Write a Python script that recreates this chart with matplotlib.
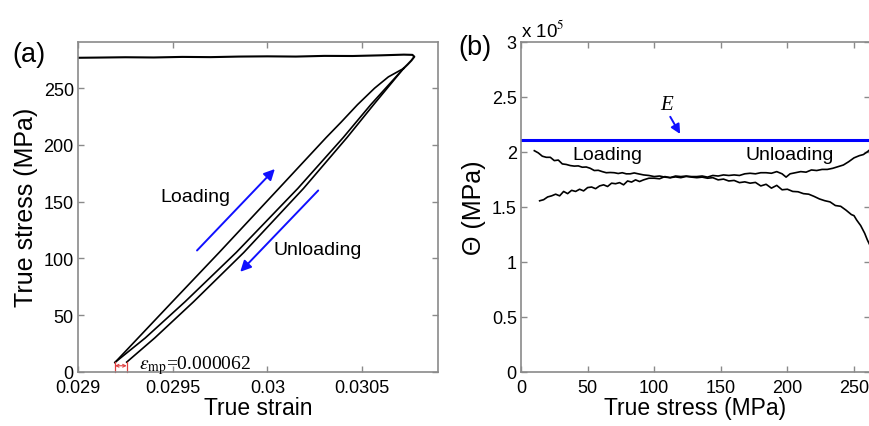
import matplotlib
matplotlib.use("Agg")
import matplotlib.pyplot as plt
from matplotlib.ticker import FuncFormatter

plt.rcParams['font.family'] = ['Liberation Sans', 'DejaVu Sans']
plt.rcParams['mathtext.fontset'] = 'stix'

# ---------------- data: panel (a) ----------------
plateau_strain = [0.02898, 0.02910, 0.02925, 0.02940, 0.02955, 0.02970, 0.02985,
                  0.03000, 0.03015, 0.03030, 0.03045, 0.03060, 0.03072, 0.030765,
                  0.030775, 0.030760, 0.030740, 0.030718]
plateau_stress = [276.8, 277.0, 277.3, 277.1, 277.6, 277.4, 277.9,
                  278.1, 277.9, 278.5, 278.4, 279.0, 279.6, 279.4,
                  277.8, 274.5, 271.0, 267.4]

load_stress = [8.4, 61.9, 105.3, 161.7, 206.6, 220.0, 235.5, 250.0, 260.0, 267.4]
load_strain = [0.029195, 0.029498, 0.029745, 0.030060, 0.030310, 0.030388,
               0.030475, 0.030565, 0.030638, 0.030718]

unload_stress = [267.4, 235.5, 206.6, 161.7, 105.3, 61.9, 30.0, 8.4]
unload_strain = [0.030718, 0.030545, 0.030400, 0.030160, 0.029835, 0.029565,
                 0.029355, 0.029195]

first_stress = [267.4, 235.5, 206.6, 161.7, 105.3, 61.9, 30.0, 8.7]
first_strain = [0.030718, 0.030560, 0.030420, 0.030190, 0.029875, 0.029610,
                0.029405, 0.029257]

strain_ticks = [0.029, 0.0295, 0.030, 0.0305]
strain_ticklabels = ['0.029', '0.0295', '0.03', '0.0305']
stress_ticks_a = [0, 50, 100, 150, 200, 250]

# ---------------- data: panel (b) ----------------
theta_load_stress = [10, 13, 16, 19, 22, 25, 28, 31, 34, 37, 40, 43, 46, 49, 52, 55,
                     58, 61, 64, 67, 70, 73, 76, 79, 82, 85, 88, 92, 96, 100, 104,
                     108, 112, 116, 120, 124, 128, 132, 136, 140, 144, 148, 152, 156,
                     160, 164, 168, 172, 176, 180, 184, 188, 192, 196, 200, 204, 208,
                     212, 216, 220, 224, 228, 232, 236, 240, 244, 248, 250, 252, 255,
                     258, 260, 262]
theta_load = [2.01, 1.99, 1.96, 1.95, 1.95, 1.92, 1.925, 1.89, 1.885, 1.875, 1.87,
              1.872, 1.86, 1.862, 1.85, 1.83, 1.832, 1.82, 1.81, 1.812, 1.81, 1.803,
              1.81, 1.80, 1.80, 1.808, 1.80, 1.79, 1.785, 1.775, 1.78, 1.77, 1.765,
              1.772, 1.765, 1.776, 1.77, 1.765, 1.77, 1.76, 1.765, 1.745, 1.752,
              1.735, 1.74, 1.72, 1.727, 1.715, 1.722, 1.69, 1.705, 1.67, 1.695,
              1.655, 1.66, 1.64, 1.637, 1.62, 1.615, 1.595, 1.572, 1.556, 1.545,
              1.512, 1.505, 1.47, 1.43, 1.42, 1.38, 1.33, 1.26, 1.20, 1.15]

theta_unload_stress = [14, 17, 20, 23, 26, 29, 32, 35, 38, 41, 44, 47, 50, 53, 56, 59,
                       62, 65, 68, 71, 74, 77, 80, 83, 86, 89, 92, 96, 100, 104, 108,
                       112, 116, 120, 124, 128, 132, 136, 140, 144, 148, 152, 156, 160,
                       164, 168, 172, 176, 180, 184, 188, 192, 196, 199, 202, 206, 210,
                       214, 218, 222, 226, 230, 234, 238, 242, 246, 250, 254, 257, 260,
                       262]
theta_unload = [1.555, 1.565, 1.59, 1.60, 1.615, 1.60, 1.64, 1.62, 1.65, 1.64, 1.66,
                1.645, 1.675, 1.68, 1.665, 1.69, 1.70, 1.685, 1.715, 1.71, 1.72, 1.70,
                1.735, 1.725, 1.745, 1.73, 1.745, 1.76, 1.76, 1.755, 1.775, 1.765,
                1.78, 1.775, 1.78, 1.775, 1.775, 1.78, 1.77, 1.785, 1.78, 1.79, 1.785,
                1.79, 1.785, 1.80, 1.805, 1.80, 1.81, 1.81, 1.805, 1.82, 1.80, 1.77,
                1.80, 1.81, 1.82, 1.815, 1.835, 1.83, 1.84, 1.84, 1.85, 1.865, 1.88,
                1.91, 1.945, 1.965, 1.975, 2.00, 2.02]

E_modulus = 2.105   # x 1e5 MPa
theta_scale = 1e5
stress_ticks_b = [0, 50, 100, 150, 200, 250]
theta_ticks = [0, 0.5, 1, 1.5, 2, 2.5, 3]

# ---------------- figure ----------------
fig = plt.figure(figsize=(8.7, 4.27), dpi=100)
axa = fig.add_axes([78/870, 54/427, 360/870, 330.3/427])
axb = fig.add_axes([521/870, 54/427, 349/870, 330.3/427])

spine_col = '#8a8a8a'
for ax in (axa, axb):
    for s in ax.spines.values():
        s.set_color(spine_col)
        s.set_linewidth(1.2)
    ax.tick_params(direction='in', top=True, right=True, color=spine_col,
                   length=4, width=1, labelsize=13, labelcolor='black', pad=3)
    ax.tick_params(axis='x', pad=5)

# panel (a)
axa.plot(plateau_strain, plateau_stress, color='black', lw=1.5)
axa.plot(first_strain, first_stress, color='black', lw=1.2)
axa.plot(unload_strain, unload_stress, color='black', lw=1.2)
axa.plot(load_strain, load_stress, color='black', lw=1.2)
axa.set_xlim(0.029, 0.0309)
axa.set_ylim(0, 291)
axa.set_xticks(strain_ticks)
axa.set_xticklabels(strain_ticklabels)
axa.set_yticks(stress_ticks_a)
axa.set_xlabel('True strain', fontsize=16.5, labelpad=0)
axa.set_ylabel('True stress (MPa)', fontsize=18, labelpad=4)

axa.annotate('', xy=(0.030049, 180.6), xytext=(0.029618, 105.3),
             arrowprops=dict(arrowstyle='-|>', color='#1010ff', lw=1.4,
                             mutation_scale=16))
axa.annotate('', xy=(0.029846, 86.5), xytext=(0.030278, 161.7),
             arrowprops=dict(arrowstyle='-|>', color='#1010ff', lw=1.4,
                             mutation_scale=16))
axa.text(0.029618, 154.5, 'Loading', fontsize=14, ha='center', va='center')
axa.text(0.030265, 108.2, 'Unloading', fontsize=14, ha='center', va='center')

# epsilon_mp marker
e_left = load_strain[0]
e_right = first_strain[-1]
axa.plot([e_left, e_left], [0, 8.7], color='#e04040', lw=0.9, clip_on=False)
axa.plot([e_right, e_right], [0, 8.7], color='#e04040', lw=0.9, clip_on=False)
axa.annotate('', xy=(e_right, 5.5), xytext=(e_left, 5.5),
             arrowprops=dict(arrowstyle='<->', color='#e04040', lw=0.8,
                             mutation_scale=5, shrinkA=0, shrinkB=0))
axa.text(0.029322, 3.5, r'$\varepsilon_{\mathrm{mp}}$=0.000062', fontsize=14,
         family=['Liberation Serif', 'DejaVu Serif'], ha='left', va='baseline')

fig.text(12/870, 1 - 62/427, '(a)', fontsize=19.5, ha='left', va='baseline')

# panel (b)
theta_load_mpa = [v * theta_scale for v in theta_load]
theta_unload_mpa = [v * theta_scale for v in theta_unload]
axb.plot(theta_load_stress, theta_load_mpa, color='black', lw=1.2)
axb.plot(theta_unload_stress, theta_unload_mpa, color='black', lw=1.2)
axb.axhline(E_modulus * theta_scale, color='#0000ff', lw=2.2)
axb.set_xlim(0, 262)
axb.set_ylim(0, 3 * theta_scale)
axb.set_xticks(stress_ticks_b)
axb.set_yticks([t * theta_scale for t in theta_ticks])
axb.yaxis.set_major_formatter(FuncFormatter(lambda v, p: f'{v / theta_scale:g}'))
axb.set_xlabel('True stress (MPa)', fontsize=16.5, labelpad=0)
axb.set_ylabel('Θ (MPa)', fontsize=18, labelpad=4)

axb.annotate('', xy=(120.5, 2.14 * theta_scale), xytext=(111, 2.34 * theta_scale),
             arrowprops=dict(arrowstyle='-|>', color='#1010ff', lw=1.4,
                             mutation_scale=14))
axb.text(109, 2.43 * theta_scale, 'E', fontsize=15, style='italic',
         family=['Liberation Serif', 'DejaVu Serif'], ha='center', va='center')
axb.text(64.5, 1.98 * theta_scale, 'Loading', fontsize=14, ha='center', va='center')
axb.text(202, 1.98 * theta_scale, 'Unloading', fontsize=14, ha='center', va='center')
axb.text(0.0, 1.005, r'x 10$^{5}$', transform=axb.transAxes, fontsize=13.5,
         ha='left', va='bottom')

fig.text(458/870, 1 - 55/427, '(b)', fontsize=19.5, ha='left', va='baseline')

fig.savefig('out.png', dpi=100)
